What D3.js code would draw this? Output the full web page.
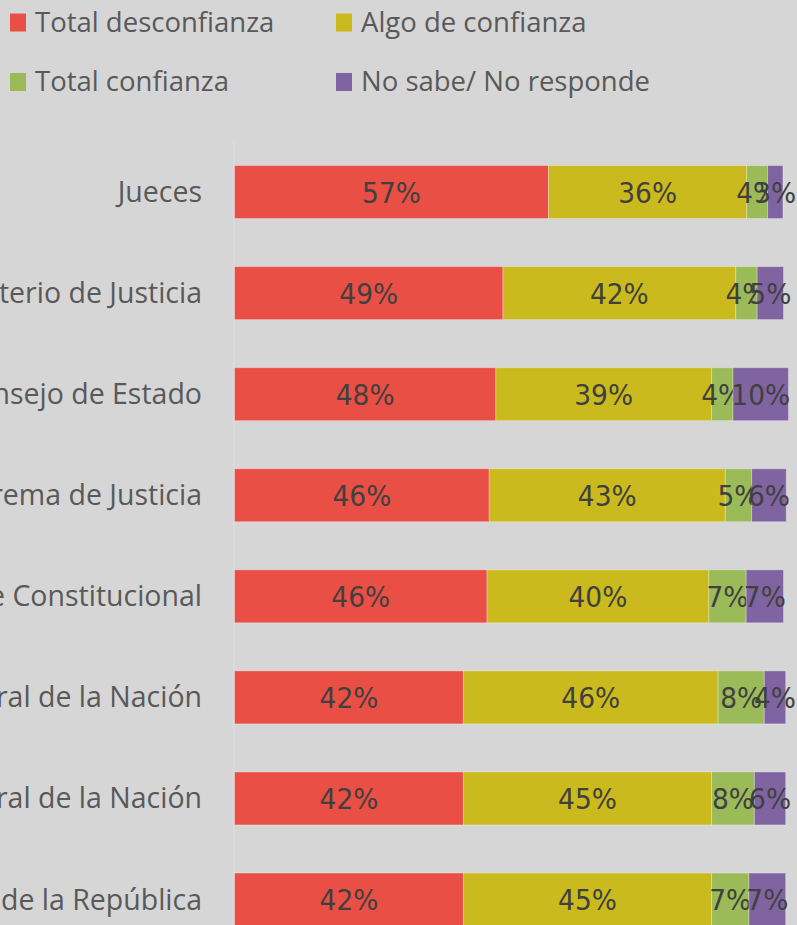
<!DOCTYPE html>
<html>
<head>
<meta charset="utf-8">
<script src="https://cdn.jsdelivr.net/npm/d3@7"></script>
<style>
  html, body { margin: 0; padding: 0; background: #d6d6d6; overflow: hidden; }
  #vis { width: 797px; height: 925px; }
</style>
</head>
<body>
<div id="vis"></div>
<script>
// categories top to bottom
var categories = ["Jueces", "Ministerio de Justicia", "Consejo de Estado", "Corte Suprema de Justicia",
  "Corte Constitucional", "Procuraduría General de la Nación", "Fiscalía General de la Nación",
  "Contraloría General de la República"];

var seriesNames = ["Total desconfianza", "Algo de confianza", "Total confianza", "No sabe/ No responde"];
var seriesColors = ["#e94f44", "#cbba1d", "#9bbb59", "#8064a2"];

// values in %
var totalDesconfianza = [57.2, 48.9, 47.6, 46.4, 46.0, 41.7, 41.7, 41.7];
var algoConfianza     = [36.1, 42.4, 39.3, 43.0, 40.4, 46.4, 45.2, 45.2];
var totalConfianza    = [3.8, 3.9, 3.9, 4.8, 6.8, 8.4, 7.8, 6.8];
var noSabe            = [2.8, 4.8, 10.1, 6.3, 6.8, 3.9, 5.7, 6.7];

var W = 797, H = 925;

var rows = categories.map(function(c, i) {
  return {cat: c, s0: totalDesconfianza[i], s1: algoConfianza[i], s2: totalConfianza[i], s3: noSabe[i]};
});
var keys = ["s0", "s1", "s2", "s3"];
var stacked = d3.stack().keys(keys)(rows);

var svg = d3.select("#vis").append("svg")
  .attr("width", W)
  .attr("height", H)
  .style("display", "block");

svg.append("rect").attr("width", W).attr("height", H).attr("fill", "#d6d6d6");

var x = d3.scaleLinear().domain([0, 100]).range([234.5, 234.5 + 549]);
var step = 101.07;
var y = d3.scaleBand()
  .domain(categories)
  .range([141.5, 141.5 + step * categories.length])
  .paddingInner(0.476)
  .paddingOuter(0.238);

// axis line
svg.append("line")
  .attr("x1", x(0) - 0.5).attr("x2", x(0) - 0.5)
  .attr("y1", y.range()[0]).attr("y2", y.range()[1])
  .attr("stroke", "#dedede")
  .attr("stroke-width", 1.5);

// bars
var groups = svg.selectAll("g.series")
  .data(stacked)
  .enter().append("g")
  .attr("class", "series")
  .attr("fill", function(d, i) { return seriesColors[i]; });

groups.selectAll("rect")
  .data(function(d) { return d; })
  .enter().append("rect")
  .attr("x", function(d) { return x(d[0]); })
  .attr("y", function(d) { return y(d.data.cat); })
  .attr("width", function(d) { return x(d[1]) - x(d[0]); })
  .attr("height", y.bandwidth())
  .attr("stroke", "rgba(255,255,255,0.3)")
  .attr("stroke-width", 1);

// data labels
var labelStretch = 1.1;
groups.selectAll("text")
  .data(function(d) { return d; })
  .enter().append("text")
  .attr("transform", function(d) {
    var cx = (x(d[0]) + x(d[1])) / 2;
    var cy = y(d.data.cat) + y.bandwidth() / 2 + 10.6;
    return "translate(" + cx + "," + cy + ") scale(1," + labelStretch + ")";
  })
  .attr("text-anchor", "middle")
  .attr("font-family", "DejaVu Sans")
  .attr("font-size", 26.5)
  .attr("fill", "#404040")
  .text(function(d) { return Math.round(d[1] - d[0]) + "%"; });

// category labels
svg.selectAll("text.cat")
  .data(categories)
  .enter().append("text")
  .attr("class", "cat")
  .attr("transform", function(d) {
    return "translate(202," + (y(d) + y.bandwidth() / 2 + 10) + ") scale(1,1.04)";
  })
  .attr("text-anchor", "end")
  .attr("font-family", "Open Sans")
  .attr("font-size", 28.5)
  .attr("fill", "#595959")
  .text(function(d) { return d; });

// legend
var legendPos = [[10, 31.5], [336, 31.5], [10, 91], [336, 91]];
var legend = svg.selectAll("g.legend")
  .data(seriesNames)
  .enter().append("g")
  .attr("class", "legend")
  .attr("transform", function(d, i) { return "translate(" + legendPos[i][0] + "," + legendPos[i][1] + ")"; });

legend.append("rect")
  .attr("x", 0)
  .attr("y", -18)
  .attr("width", 16)
  .attr("height", 18)
  .attr("fill", function(d, i) { return seriesColors[i]; });

legend.append("text")
  .attr("x", 25)
  .attr("y", 0)
  .attr("font-family", "Open Sans")
  .attr("font-size", 27.5)
  .attr("fill", "#595959")
  .text(function(d) { return d; });
</script>
</body>
</html>
